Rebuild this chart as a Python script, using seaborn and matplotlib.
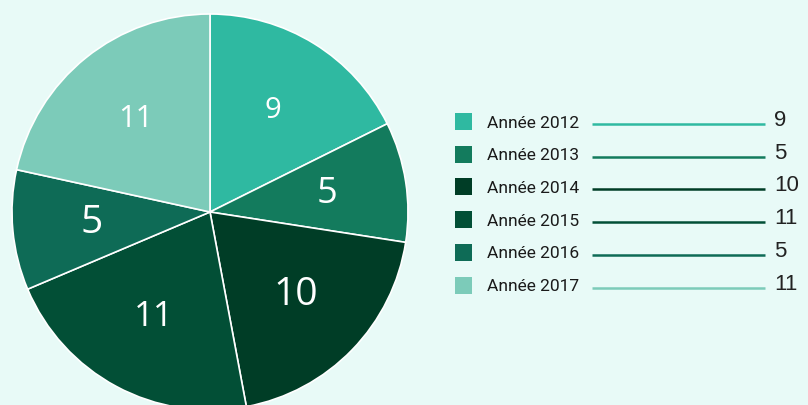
import seaborn as sns
import matplotlib.pyplot as plt
from matplotlib.patches import Rectangle

# data
years = ['Année 2012', 'Année 2013', 'Année 2014', 'Année 2015', 'Année 2016', 'Année 2017']
values = [9, 5, 10, 11, 5, 11]
colors = ['#2fb9a1', '#137b5d', '#003d26', '#024f36', '#0e6b56', '#7ccbb9']

sns.set_style('white')
palette = sns.color_palette(colors)
bg = '#e8faf7'

fig = plt.figure(figsize=(8.08, 4.05), dpi=100, facecolor=bg)
ax = fig.add_axes([0, 0, 1, 1])
ax.set_facecolor(bg)

wedges, texts = ax.pie(values, colors=palette, labels=[str(v) for v in values],
                       startangle=90, counterclock=False, center=(210, 193), radius=198,
                       labeldistance=0.6, frame=True,
                       wedgeprops=dict(edgecolor='white', linewidth=1.2),
                       textprops=dict(color='white', family='Open Sans', ha='center', va='center'))
ax.set_xlim(0, 808)
ax.set_ylim(0, 405)
ax.set_aspect('equal')
ax.axis('off')

label_sizes = [21, 26, 28, 25, 28, 22]
for t, s in zip(texts, label_sizes):
    t.set_fontsize(s)

# legend on the right
for i, (name, v, c) in enumerate(zip(years, values, palette)):
    y = 405 - (121 + i * 32.7)
    ax.add_patch(Rectangle((455, y - 9), 17, 17, color=c, lw=0))
    ax.text(487, y - 2, name, fontsize=12.5, color='#1a1a1a', va='center', ha='left',
            family=['Roboto', 'DejaVu Sans'])
    ax.plot([592, 765], [y - 3, y - 3], color=c, lw=1.8, solid_capstyle='butt')
    ax.text(774, y + 0.5, str(v), fontsize=16, color='#222222', va='center', ha='left',
            family=['Liberation Sans', 'DejaVu Sans'])

fig.savefig('out.png', dpi=100, facecolor=bg)
